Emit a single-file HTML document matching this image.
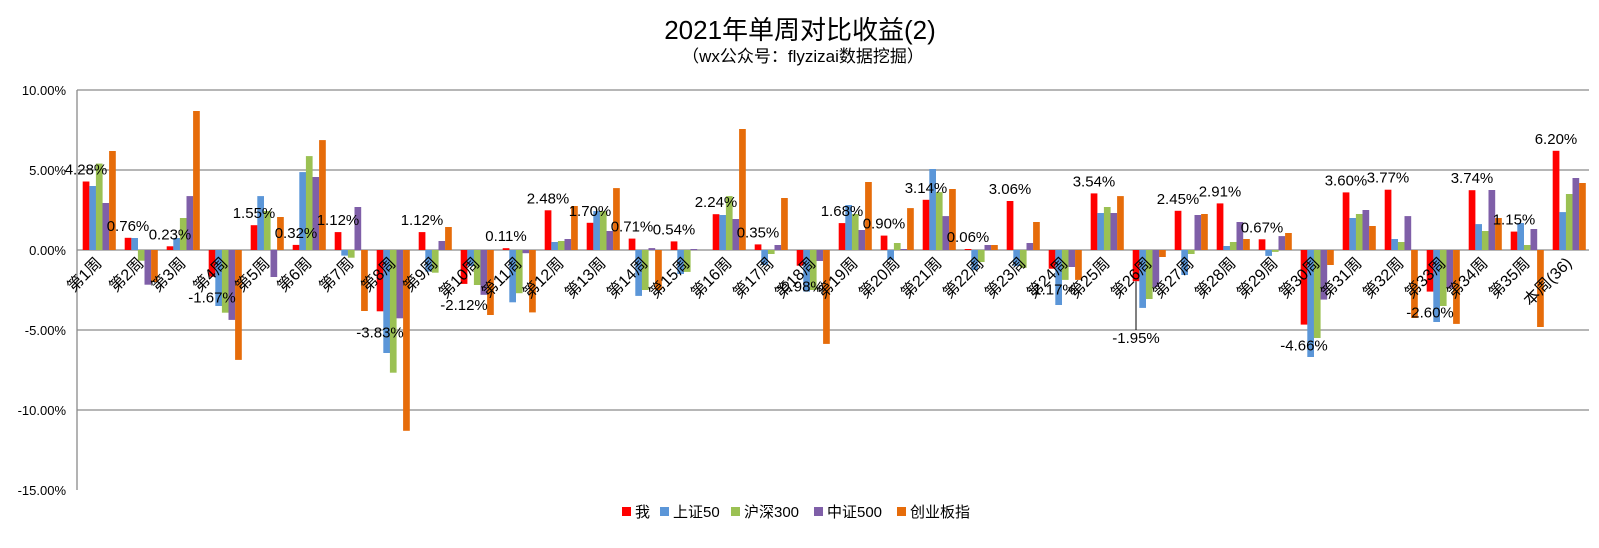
<!DOCTYPE html>
<html><head><meta charset="utf-8"><style>
body{margin:0;background:#fff;}
svg{display:block;font-family:"Liberation Sans","Noto Sans CJK SC",sans-serif;}
</style></head><body>
<svg id="c" width="1599" height="548" xmlns="http://www.w3.org/2000/svg">
<rect width="1599" height="548" fill="#fff"/>
<text x="800" y="39" font-size="26" text-anchor="middle" fill="#000">2021年单周对比收益(2)</text>
<text x="803" y="62" font-size="17" text-anchor="middle" fill="#000">（wx公众号：flyzizai数据挖掘）</text>
<g id="g"></g>
</svg>
<script>
var d=[[4.28,4.0,5.4,2.94,6.19],[0.76,0.75,-0.67,-2.17,-2.0],[0.23,0.75,2.0,3.37,8.69],[-1.67,-3.5,-3.92,-4.37,-6.87],[1.55,3.37,2.44,-1.69,2.06],[0.32,4.87,5.87,4.56,6.87],[1.12,-0.35,-0.48,2.69,-3.81],[-3.83,-6.44,-7.67,-4.27,-11.3],[1.12,-1.35,-1.42,0.56,1.44],[-2.12,-1.0,-2.19,-2.8,-4.06],[0.11,-3.27,-2.7,-0.2,-3.9],[2.48,0.5,0.56,0.69,2.75],[1.70,2.44,2.44,1.19,3.87],[0.71,-2.87,-2.5,0.12,-2.5],[0.54,-1.5,-1.37,0.06,0],[2.24,2.19,3.37,1.94,7.56],[0.35,-0.94,-0.25,0.31,3.25],[-0.98,-2.6,-2.5,-0.69,-5.87],[1.68,2.81,2.25,1.25,4.25],[0.90,-0.62,0.44,0.06,2.62],[3.14,5.06,3.62,2.12,3.81],[0.06,-1.25,-0.75,0.31,0.31],[3.06,-1.0,-1.12,0.44,1.75],[-1.17,-3.44,-1.87,-1.06,-1.87],[3.54,2.31,2.69,2.31,3.37],[-1.95,-3.62,-3.06,-2.31,-0.44],[2.45,-1.56,-0.25,2.19,2.25],[2.91,0.25,0.5,1.75,0.69],[0.67,-0.37,-0.12,0.87,1.06],[-4.66,-6.69,-5.5,-3.1,-0.94],[3.60,2.0,2.25,2.5,1.5],[3.77,0.69,0.5,2.12,-4.25],[-2.60,-4.5,-3.5,-2.37,-4.62],[3.74,1.62,1.19,3.75,2.0],[1.15,1.69,0.31,1.31,-4.81],[6.20,2.37,3.5,4.5,4.19]];
var col=["#ff0000","#5b96d8","#9bc153","#7f5fa8","#e66c0a"];
var Z=250,S=16,s="";
function y(v){return Z-v*S;}
[10,5,0,-5,-10].forEach(function(v){s+='<line x1="77" x2="1589" y1="'+y(v)+'" y2="'+y(v)+'" stroke="#8a8a8a" stroke-width="1.3"/>';});
s+='<line x1="77" x2="77" y1="90" y2="490" stroke="#8a8a8a" stroke-width="1.3"/>';
[10,5,0,-5,-10,-15].forEach(function(v){s+='<text x="66" y="'+(y(v)+5)+'" font-size="13" text-anchor="end">'+v.toFixed(2)+'%</text>';});
for(var i=0;i<36;i++){var x0=82.7+i*42;
 for(var k=0;k<5;k++){var v=d[i][k];var yy=Math.min(y(v),Z),h=Math.abs(v*S);
  s+='<rect x="'+(x0+k*6.6).toFixed(1)+'" y="'+yy.toFixed(1)+'" width="6.7" height="'+h.toFixed(1)+'" fill="'+col[k]+'"/>';}
 var lab=i==35?'本周(36)':'第'+(i+1)+'周';
 var cx=x0+20;
 s+='<text transform="translate('+cx+',264) rotate(-45)" font-size="16" text-anchor="end" fill="#000">'+lab+'</text>';
 var v=d[i][0],rx=x0+3.3,ty;
 if(i==25){s+='<line x1="'+rx+'" x2="'+rx+'" y1="'+y(v)+'" y2="330" stroke="#000"/>';ty=343;}
 else ty=v>=0?y(v)-7:y(v)+26;
 s+='<text x="'+rx+'" y="'+ty+'" font-size="15" text-anchor="middle" fill="#000">'+v.toFixed(2)+'%</text>';
}
var L=[["我",15],["上证50",48],["沪深300",60],["中证500",60],["创业板指",60]];
var lx=622;
L.forEach(function(l,k){s+='<rect x="'+lx+'" y="507" width="9" height="9" fill="'+col[k]+'"/><text x="'+(lx+13)+'" y="517" font-size="15">'+l[0]+'</text>';lx+=13+l[1]+10;});
document.getElementById("g").innerHTML=s;
</script>
</body></html>
